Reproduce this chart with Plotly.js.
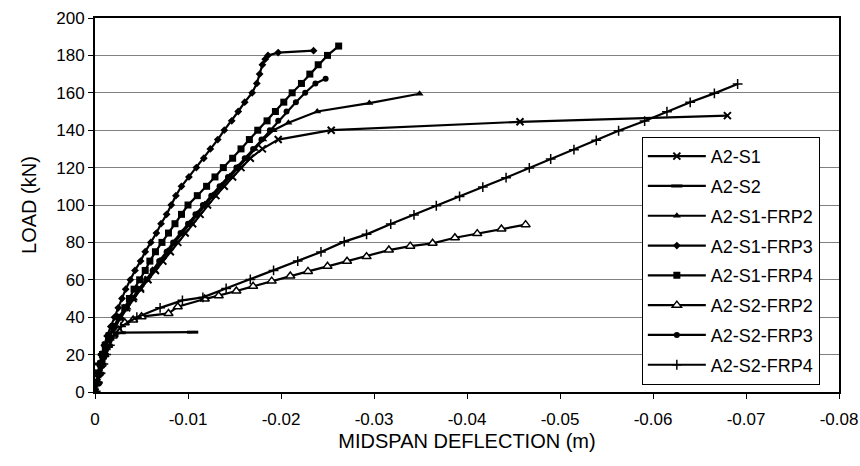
<!DOCTYPE html>
<html>
<head>
<meta charset="utf-8">
<script src="https://cdn.plot.ly/plotly-3.0.1.min.js"></script>
<style>html,body{margin:0;padding:0;background:#fff}#chart{width:860px;height:466px}</style>
</head>
<body>
<div id="chart"></div>
<script>
// ---- data (deflection in m, load in kN) ----
const s1_x = [0,-0.0002,-0.0004,-0.0007,-0.0009,-0.0012,-0.0016,-0.0021,-0.0027,-0.0034,-0.0041,-0.0049,-0.0057,-0.0065,-0.0073,-0.0081,-0.0089,-0.0097,-0.0105,-0.0113,-0.0121,-0.0130,-0.0139,-0.0148,-0.0157,-0.0167,-0.0180,-0.0197,-0.0254,-0.0457,-0.0680];
const s1_y = [0,5,10,15,20,25,30,35,40,45,50,55,60,65,70,75,80,85,90,95,100,105,110,115,120,125,130,135,140,144.5,147.8];

const s2_x = [0,-0.0002,-0.0004,-0.0006,-0.0009,-0.0013,-0.0019,-0.0027,-0.0105];
const s2_y = [0,5,10,15,20,25,30,31.7,32];

const s1frp2_x = [0,-0.0002,-0.0005,-0.0007,-0.0010,-0.0013,-0.0017,-0.0022,-0.0028,-0.0035,-0.0042,-0.0049,-0.0056,-0.0064,-0.0071,-0.0079,-0.0086,-0.0094,-0.0102,-0.0110,-0.0118,-0.0127,-0.0136,-0.0145,-0.0154,-0.0163,-0.0172,-0.0181,-0.0192,-0.0208,-0.0239,-0.0295,-0.0349];
const s1frp2_y = [0,5,10,15,20,25,30,35,40,45,50,55,60,65,70,75,80,85,90,95,100,105,110,115,120,125,130,135,140,144,150,154.5,159.5];

const s1frp3_x = [0,-0.0001,-0.0003,-0.0005,-0.0007,-0.0010,-0.0013,-0.0017,-0.0021,-0.0025,-0.0029,-0.0033,-0.0038,-0.0043,-0.0049,-0.0054,-0.0060,-0.0066,-0.0071,-0.0077,-0.0082,-0.0087,-0.0093,-0.0101,-0.0109,-0.0117,-0.0124,-0.0132,-0.0139,-0.0147,-0.0154,-0.0161,-0.0169,-0.0174,-0.0177,-0.0180,-0.0183,-0.0186,-0.0197,-0.0235];
const s1frp3_y = [0,5,10,15,20,25,30,35,40,45,50,55,60,65,70,75,80,85,90,95,100,105,110,115,120,125,130,135,140,145,150,155,160,165,170,175,178,180,181.5,182.5];

const s1frp4_x = [0,-0.0002,-0.0004,-0.0006,-0.0008,-0.0011,-0.0015,-0.0020,-0.0026,-0.0032,-0.0037,-0.0042,-0.0048,-0.0054,-0.0059,-0.0065,-0.0072,-0.0079,-0.0086,-0.0093,-0.0100,-0.0110,-0.0120,-0.0129,-0.0138,-0.0148,-0.0157,-0.0166,-0.0175,-0.0185,-0.0194,-0.0203,-0.0212,-0.0222,-0.0231,-0.0240,-0.0250,-0.0262];
const s1frp4_y = [0,5,10,15,20,25,30,35,40,45,50,55,60,65,70,75,80,85,90,95,100,105,110,115,120,125,130,135,140,145,150,155,160,165,170,175,180,185];

const s2frp2_x = [0,-0.0002,-0.0004,-0.0007,-0.0010,-0.0014,-0.0019,-0.0025,-0.0032,-0.0041,-0.0050,-0.0079,-0.0089,-0.0118,-0.0133,-0.0152,-0.0170,-0.0190,-0.0210,-0.0229,-0.0250,-0.0271,-0.0292,-0.0316,-0.0339,-0.0363,-0.0387,-0.0411,-0.0437,-0.0463];
const s2frp2_y = [0,5,10,15,20,25,30,33,37,38.5,40.3,42,45.6,49.7,51.5,54,56.5,59.3,62,64.5,67.2,69.9,72.4,75.9,78,79.5,82.5,84.7,87.2,89.5];

const s2frp3_x = [0,-0.0002,-0.0004,-0.0006,-0.0009,-0.0012,-0.0016,-0.0021,-0.0027,-0.0033,-0.0040,-0.0047,-0.0055,-0.0062,-0.0069,-0.0077,-0.0084,-0.0092,-0.0100,-0.0108,-0.0116,-0.0125,-0.0134,-0.0143,-0.0152,-0.0161,-0.0170,-0.0179,-0.0188,-0.0197,-0.0206,-0.0216,-0.0226,-0.0237,-0.0248];
const s2frp3_y = [0,5,10,15,20,25,30,35,40,45,50,55,60,65,70,75,80,85,90,95,100,105,110,115,120,125,130,135,140,145,150,155,160,165,167.5];

const s2frp4_x = [0,-0.0003,-0.0006,-0.0009,-0.0012,-0.0016,-0.0020,-0.0028,-0.0045,-0.0070,-0.0094,-0.0116,-0.0141,-0.0167,-0.0192,-0.0218,-0.0243,-0.0268,-0.0292,-0.0318,-0.0343,-0.0367,-0.0392,-0.0417,-0.0442,-0.0467,-0.0490,-0.0515,-0.0539,-0.0563,-0.0591,-0.0615,-0.0640,-0.0666,-0.0691];
const s2frp4_y = [0,5,10,15,20,25,30,35,40,45,49,50.6,55.4,60.2,65,70,74.9,80.4,84.3,89.8,94.7,99.6,104.6,109.6,114.6,119.8,124.6,129.6,134.6,139.7,144.9,149.9,154.9,159.7,164.7];

const seriesNames = ["A2-S1","A2-S2","A2-S1-FRP2","A2-S1-FRP3","A2-S1-FRP4","A2-S2-FRP2","A2-S2-FRP3","A2-S2-FRP4"];
const xTickVals = [0,-0.01,-0.02,-0.03,-0.04,-0.05,-0.06,-0.07,-0.08];
const xTickText = ["0","-0.01","-0.02","-0.03","-0.04","-0.05","-0.06","-0.07","-0.08"];
const yTickVals = [0,20,40,60,80,100,120,140,160,180,200];

const xs = [s1_x,s2_x,s1frp2_x,s1frp3_x,s1frp4_x,s2frp2_x,s2frp3_x,s2frp4_x];
const ys = [s1_y,s2_y,s1frp2_y,s1frp3_y,s1frp4_y,s2frp2_y,s2frp3_y,s2frp4_y];
const markers = [
  {symbol:'x-thin', size:7, color:'#000', line:{color:'#000', width:2}},
  {symbol:'line-ew', size:8, color:'#000', line:{color:'#000', width:3}},
  {symbol:'triangle-up', size:7, color:'#000', line:{width:0}},
  {symbol:'diamond', size:6, color:'#000', line:{width:0}},
  {symbol:'square', size:7, color:'#000', line:{width:0}},
  {symbol:'triangle-up', size:8, color:'#fff', line:{color:'#000', width:1.5}},
  {symbol:'circle', size:6, color:'#000', line:{width:0}},
  {symbol:'cross-thin', size:7, color:'#000', line:{color:'#000', width:1.5}}
];

const traces = seriesNames.map((n,i)=>({
  type:'scatter', mode:'lines+markers', name:n, legendgroup:'g'+i,
  x: xs[i], y: ys[i],
  line:{color:'#000', width:2.2},
  marker: markers[i]
}));

const layout = {
  width:860, height:466,
  margin:{l:95, r:21, t:18, b:74},
  paper_bgcolor:'#fff', plot_bgcolor:'#fff',
  font:{family:'Liberation Sans, Arial, sans-serif', size:17, color:'#000'},
  showlegend:true,
  legend:{x:0.735, y:0.682, xanchor:'left', yanchor:'top', bgcolor:'#fff', bordercolor:'#000', borderwidth:1,
          font:{size:18}, tracegroupgap:3.4, itemwidth:58, traceorder:'grouped'},
  xaxis:{range:[0,-0.08], tickvals:xTickVals, ticktext:xTickText, showgrid:false, zeroline:false,
         showline:true, linecolor:'#000', linewidth:2, mirror:true, ticks:'outside', ticklen:5, tickcolor:'#000',
         ticklabelstandoff:6,
         tickfont:{size:17}, title:{text:'MIDSPAN DEFLECTION (m)', font:{size:20}, standoff:6}},
  yaxis:{range:[0,200], tickvals:yTickVals, showgrid:true, gridcolor:'#808080', gridwidth:1, zeroline:false,
         showline:true, linecolor:'#000', linewidth:2, mirror:true, ticks:'outside', ticklen:5, tickcolor:'#000',
         tickfont:{size:17}, title:{text:'LOAD (kN)', font:{size:20}, standoff:14}}
};
Plotly.newPlot('chart', traces, layout, {displayModeBar:false, staticPlot:true});
</script>
</body>
</html>
